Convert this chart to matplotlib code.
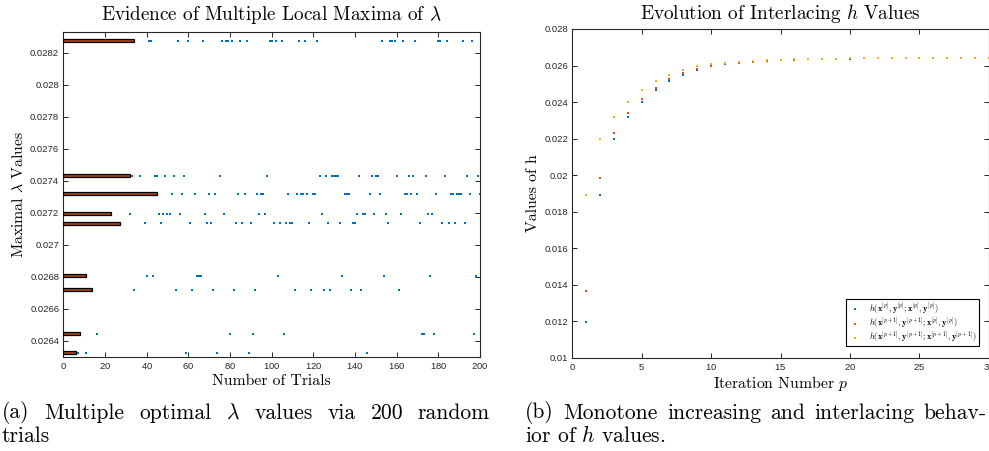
import matplotlib
matplotlib.use("Agg")
import matplotlib.pyplot as plt
from matplotlib.ticker import FormatStrFormatter

plt.rcParams["mathtext.fontset"] = "cm"
plt.rcParams["axes.formatter.use_mathtext"] = True

SERIF = "cmr10"
TICKFONT = "Liberation Sans"
BLUE = "#0072BD"
RED = "#D95319"
YELLOW = "#EDB120"

# (a) distinct local maxima of lambda and the trials that landed on each
lambda_levels = [0.028275, 0.027431, 0.027321, 0.027194, 0.027136,
                 0.026808, 0.026721, 0.026444, 0.026327]
trials_0 = [6, 12, 17, 23, 27, 41, 42, 55, 60, 67, 76, 78, 79, 81, 85, 88, 99, 100,
            102, 105, 113, 116, 122, 153, 157, 158, 159, 163, 169, 180, 181, 184, 192, 196]
trials_1 = [4, 10, 15, 21, 25, 29, 33, 37, 44, 45, 49, 53, 58, 75, 98, 123, 126, 129,
            130, 131, 132, 142, 148, 150, 151, 160, 166, 168, 174, 183, 194, 199]
trials_2 = [1, 8, 14, 19, 24, 28, 30, 31, 35, 36, 38, 52, 57, 63, 70, 73, 84, 87, 93,
            95, 96, 108, 112, 114, 115, 117, 120, 121, 135, 136, 137, 147, 152, 164,
            165, 167, 170, 179, 186, 187, 189, 190, 191, 195, 200]
trials_3 = [5, 13, 18, 22, 32, 46, 48, 50, 51, 56, 68, 77, 94, 97, 124, 141, 144, 145,
            149, 155, 162, 175, 177]
trials_4 = [2, 20, 26, 39, 47, 61, 69, 71, 83, 86, 90, 101, 104, 107, 109, 110, 118,
            127, 133, 139, 140, 156, 171, 182, 185, 188, 193]
trials_5 = [3, 40, 43, 64, 65, 66, 103, 134, 154, 176, 198]
trials_6 = [9, 34, 54, 62, 72, 82, 92, 111, 119, 125, 128, 138, 143, 161]
trials_7 = [16, 80, 91, 106, 172, 173, 178, 197]
trials_8 = [7, 11, 59, 74, 89, 146]
trials_by_level = [trials_0, trials_1, trials_2, trials_3, trials_4,
                   trials_5, trials_6, trials_7, trials_8]

# (b) h values per iteration
iterations = list(range(1, 31))
h_blue = [0.01196, 0.01891, 0.02197, 0.02320, 0.02402, 0.02466, 0.02517, 0.02549,
          0.02576, 0.02595, 0.02606, 0.02613, 0.02619, 0.02624, 0.02628, 0.02631,
          0.02634, 0.02636, 0.02637, 0.02638, 0.02639, 0.02640, 0.02640, 0.02641,
          0.02641, 0.02641, 0.02642, 0.02642, 0.02642, 0.02642]
h_red = [0.01367, 0.01984, 0.02232, 0.02342, 0.02418, 0.02478, 0.02526, 0.02557,
         0.02580, 0.02598, 0.02608, 0.02615, 0.02621, 0.02625, 0.02629, 0.02632,
         0.02634, 0.02636, 0.02638, 0.02639, 0.02640, 0.02640, 0.02641, 0.02641,
         0.02641, 0.02642, 0.02642, 0.02642, 0.02642, 0.02642]
h_yellow = [0.01891, 0.02197, 0.02320, 0.02402, 0.02466, 0.02517, 0.02549, 0.02576,
            0.02595, 0.02606, 0.02613, 0.02619, 0.02624, 0.02628, 0.02631, 0.02634,
            0.02636, 0.02637, 0.02638, 0.02639, 0.02640, 0.02640, 0.02641, 0.02641,
            0.02641, 0.02642, 0.02642, 0.02642, 0.02642, 0.02642]
legend_labels = [
    r"$h(\mathbf{x}^{[p]},\mathbf{y}^{[p]};\mathbf{x}^{[p]},\mathbf{y}^{[p]})$",
    r"$h(\mathbf{x}^{[p+1]},\mathbf{y}^{[p+1]};\mathbf{x}^{[p]},\mathbf{y}^{[p]})$",
    r"$h(\mathbf{x}^{[p+1]},\mathbf{y}^{[p+1]};\mathbf{x}^{[p+1]},\mathbf{y}^{[p+1]})$",
]

caption_a = [r"(a) Multiple optimal $\lambda$ values via 200 random", "trials"]
caption_b = ["(b) Monotone increasing and interlacing behav-", r"ior of $h$ values."]


def style_axes(ax):
    ax.tick_params(direction="in", length=3.5, width=0.7, top=True, right=True,
                   labelsize=6.8, colors="#262626", pad=3)
    for lab in ax.get_xticklabels() + ax.get_yticklabels():
        lab.set_fontfamily(TICKFONT)
    for sp in ax.spines.values():
        sp.set_color("#262626")
        sp.set_linewidth(0.8)


def justified(fig, line, x0, x1, y, **kw):
    # lay the words of one caption line out flush to both margins, like LaTeX
    words = line.split(" ")
    texts = [fig.text(0, y / H, w, **kw) for w in words]
    r = fig.canvas.get_renderer()
    widths = [t.get_window_extent(r).width for t in texts]
    gap = (x1 - x0 - sum(widths)) / (len(words) - 1)
    x = x0
    for t, w in zip(texts, widths):
        t.set_x(x / W)
        x += w + gap


W, H = 989, 451
fig = plt.figure(figsize=(W / 100, H / 100), dpi=100)

# ---- left panel
ax1 = fig.add_axes([63.3 / W, 1 - 357 / H, 416.7 / W, 325 / H])
for level, trials in zip(lambda_levels, trials_by_level):
    ax1.scatter(trials, [level] * len(trials), s=2.2, marker="s", color=BLUE,
                linewidths=0, zorder=2)
counts = [len(t) for t in trials_by_level]
ax1.barh(lambda_levels, counts, height=0.000019, color="#a8441b",
         edgecolor="black", linewidth=0.9, zorder=3)
ax1.set_xlim(0, 200)
ax1.set_ylim(0.0263, 0.02833)
ax1.set_xticks(range(0, 201, 20))
ax1.set_yticks([0.0264 + 0.0002 * i for i in range(10)])
ax1.yaxis.set_major_formatter(FormatStrFormatter("%g"))
style_axes(ax1)
ax1.set_title(r"Evidence of Multiple Local Maxima of $\lambda$", fontfamily=SERIF,
              fontsize=13.8, pad=9)
ax1.set_xlabel("Number of Trials", fontfamily=SERIF, fontsize=11.3, labelpad=2.5)
ax1.set_ylabel(r"Maximal $\lambda$ Values", fontfamily=SERIF, fontsize=11.3, labelpad=3)

# ---- right panel
ax2 = fig.add_axes([572.3 / W, 1 - 357.7 / H, 416.5 / W, 328.7 / H])
for ys, col, lab in zip([h_blue, h_red, h_yellow], [BLUE, RED, YELLOW], legend_labels):
    ax2.scatter(iterations, ys, s=2.2, marker="s", color=col, linewidths=0,
                label=lab, clip_on=False)
ax2.set_xlim(0, 30)
ax2.set_ylim(0.01, 0.028)
ax2.set_xticks(range(0, 31, 5))
ax2.set_yticks([0.01 + 0.002 * i for i in range(10)])
ax2.yaxis.set_major_formatter(FormatStrFormatter("%g"))
style_axes(ax2)
ax2.set_title(r"Evolution of Interlacing $h$ Values", fontfamily=SERIF,
              fontsize=13.8, pad=7)
ax2.set_xlabel(r"Iteration Number $p$", fontfamily=SERIF, fontsize=11.3, labelpad=1.5)
ax2.set_ylabel("Values of h", fontfamily=SERIF, fontsize=11.3, labelpad=3)
leg = ax2.legend(loc="lower right", fontsize=6.0, frameon=True, fancybox=False,
                 edgecolor="black", framealpha=1, markerscale=1.2, handletextpad=0.9,
                 handlelength=1.6, borderpad=0.25, labelspacing=0.0,
                 bbox_to_anchor=(0.986, 0.022))
leg.get_frame().set_linewidth(0.8)

# ---- captions
cap = dict(fontfamily=SERIF, fontsize=15.5, va="center", ha="left")
justified(fig, caption_a[0], 2, 490, H - 413, **cap)
fig.text(2 / W, 1 - 436 / H, caption_a[1], **cap)
justified(fig, caption_b[0], 525, 987, H - 413, **cap)
fig.text(525 / W, 1 - 436 / H, caption_b[1], **cap)

fig.savefig("out.png", dpi=100)
